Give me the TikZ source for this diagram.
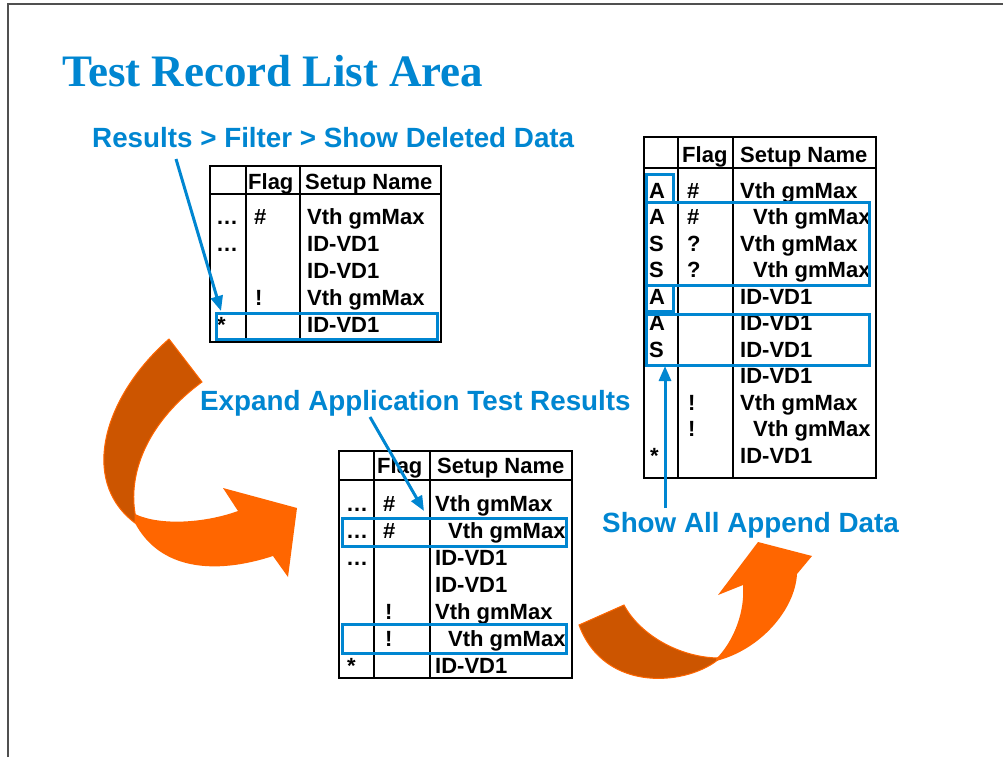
\documentclass[tikz,border=0pt]{standalone}
\usepackage{fontspec}
\setmainfont{Liberation Sans}
\newfontfamily\titlefont{Liberation Serif}
\usetikzlibrary{arrows.meta}
\definecolor{hlblue}{RGB}{0,134,209}
\definecolor{darkor}{RGB}{204,85,0}
\definecolor{brightor}{RGB}{255,102,0}
\definecolor{framegray}{RGB}{80,80,80}
\begin{document}
\begin{tikzpicture}[x=1pt,y=-1pt,
  cell/.style={anchor=base west,inner sep=0pt,font=\fontsize{22}{22}\selectfont\bfseries},
  lbl/.style={anchor=base west,inner sep=0pt,text=hlblue,font=\fontsize{27.8}{28}\selectfont\bfseries},
  gridline/.style={line width=1.6pt},
  hl/.style={draw=hlblue,line width=3pt},
  parrow/.style={draw=hlblue,line width=3pt,-{Triangle[length=15pt,width=12pt]}},
  backside/.style={fill=darkor,draw=brightor,line width=1pt},
  frontside/.style={fill=brightor},
]
\useasboundingbox (0,0) rectangle (1003,757);
\fill[white] (0,0) rectangle (1003,757);
\draw[framegray,line width=1.5pt] (8,757) -- (8,4) -- (1003,4);

% title
\node[anchor=base west,inner sep=0pt,text=hlblue,font=\titlefont\bfseries\fontsize{45}{45}\selectfont] (title) at (62,87) {Test Record List Area};

% orange arrow 1 (left)
\path[backside] (169,339) .. controls (105,395) and (78,480) .. (135,523)
  -- (135,513) .. controls (128,470) and (150,420) .. (202,382) -- cycle;
\path[frontside] (135,514) .. controls (160,526) and (205,523) .. (238,511)
  -- (223,488) -- (297,508) -- (288,577) -- (273,556)
  .. controls (215,575) and (160,570) .. (135,523) -- cycle;

% orange arrow 2 (right)
\path[backside] (579,625) -- (624,605) .. controls (640,635) and (680,658) .. (720,658)
  .. controls (690,685) and (605,695) .. (579,625) -- cycle;
\path[frontside] (716,659) .. controls (735,640) and (745,610) .. (743,585)
  -- (718,595) -- (758,542) -- (812,556) -- (797,574)
  .. controls (795,610) and (760,650) .. (716,661) -- cycle;

% table 1
\draw[gridline] (210,166) rectangle (441,342);
\draw[gridline] (246,166) -- (246,342);
\draw[gridline] (300,166) -- (300,342);
\draw[gridline] (210,194) -- (441,194);
\node[cell] (t1hf) at (248,189) {Flag};
\node[cell] (t1hs) at (305,189) {Setup Name};
\node[cell] (t1a1) at (216,224) {…};
\node[cell] (t1b1) at (254,224) {\#};
\node[cell] (t1c1) at (307,224) {Vth gmMax};
\node[cell] (t1a2) at (216,251) {…};
\node[cell] (t1c2) at (307,251) {ID-VD1};
\node[cell] (t1c3) at (307,278) {ID-VD1};
\node[cell] (t1b4) at (255,305) {!};
\node[cell] (t1c4) at (307,305) {Vth gmMax};
\node[cell] (t1a5) at (217,332) {*};
\node[cell] (t1c5) at (307,332) {ID-VD1};
\draw[hl] (216,313) rectangle (437,339);

% table 2
\draw[gridline] (339,451) rectangle (572,678);
\draw[gridline] (374,451) -- (374,678);
\draw[gridline] (430,451) -- (430,678);
\draw[gridline] (339,480) -- (572,480);
\node[cell] (t2hf) at (377,473) {Flag};
\node[cell] (t2hs) at (437,473) {Setup Name};
\node[cell] (t2a1) at (346,511) {…};
\node[cell] (t2b1) at (383,511) {\#};
\node[cell] (t2c1) at (435,511) {Vth gmMax};
\node[cell] (t2a2) at (346,538) {…};
\node[cell] (t2b2) at (383,538) {\#};
\node[cell] (t2c2) at (448,538) {Vth gmMax};
\node[cell] (t2a3) at (346,565) {…};
\node[cell] (t2c3) at (435,565) {ID-VD1};
\node[cell] (t2c4) at (435,592) {ID-VD1};
\node[cell] (t2b5) at (385,619) {!};
\node[cell] (t2c5) at (435,619) {Vth gmMax};
\node[cell] (t2b6) at (385,646) {!};
\node[cell] (t2c6) at (448,646) {Vth gmMax};
\node[cell] (t2a7) at (347,673) {*};
\node[cell] (t2c7) at (435,673) {ID-VD1};
\draw[hl] (342,518) rectangle (566,546);
\draw[hl] (342,624) rectangle (566,653);

% table 3
\draw[gridline] (644,137) rectangle (876,478);
\draw[gridline] (678,137) -- (678,478);
\draw[gridline] (733,137) -- (733,478);
\draw[gridline] (644,168) -- (876,168);
\node[cell] (t3hf) at (682,162) {Flag};
\node[cell] (t3hs) at (740,162) {Setup Name};
\node[cell] (t3a1) at (649,198) {A};
\node[cell] (t3b1) at (687,198) {\#};
\node[cell] (t3c1) at (740,198) {Vth gmMax};
\node[cell] (t3a2) at (649,224.5) {A};
\node[cell] (t3b2) at (687,224.5) {\#};
\node[cell] (t3c2) at (753,224.5) {Vth gmMax};
\node[cell] (t3a3) at (649,251) {S};
\node[cell] (t3b3) at (687,251) {?};
\node[cell] (t3c3) at (740,251) {Vth gmMax};
\node[cell] (t3a4) at (649,277.5) {S};
\node[cell] (t3b4) at (687,277.5) {?};
\node[cell] (t3c4) at (753,277.5) {Vth gmMax};
\node[cell] (t3a5) at (649,304) {A};
\node[cell] (t3c5) at (740,304) {ID-VD1};
\node[cell] (t3a6) at (649,330.5) {A};
\node[cell] (t3c6) at (740,330.5) {ID-VD1};
\node[cell] (t3a7) at (649,357) {S};
\node[cell] (t3c7) at (740,357) {ID-VD1};
\node[cell] (t3c8) at (740,383.5) {ID-VD1};
\node[cell] (t3b9) at (688,410) {!};
\node[cell] (t3c9) at (740,410) {Vth gmMax};
\node[cell] (t3b10) at (688,436.5) {!};
\node[cell] (t3c10) at (753,436.5) {Vth gmMax};
\node[cell] (t3a11) at (650,463) {*};
\node[cell] (t3c11) at (740,463) {ID-VD1};
\draw[hl] (646,174) rectangle (673,202);
\draw[hl] (646,202) rectangle (869,285);
\draw[hl] (646,285) rectangle (673,311);
\draw[hl] (646,314) rectangle (869,365);

% labels
\node[lbl] (lresults) at (92,147) {Results > Filter > Show Deleted Data};
\node[lbl] (lexpand) at (200,410) {Expand Application Test Results};
\node[lbl] (lshow) at (602,532) {Show All Append Data};

% pointer arrows
\coordinate (p1s) at (176,159);
\coordinate (p1e) at (221,311);
\coordinate (p2s) at (370,417);
\coordinate (p2e) at (424,511);
\coordinate (p3s) at (665,508);
\coordinate (p3e) at (665,366);
\draw[parrow] (p1s) -- (p1e);
\draw[parrow] (p2s) -- (p2e);
\draw[parrow] (p3s) -- (p3e);
\end{tikzpicture}
\end{document}
